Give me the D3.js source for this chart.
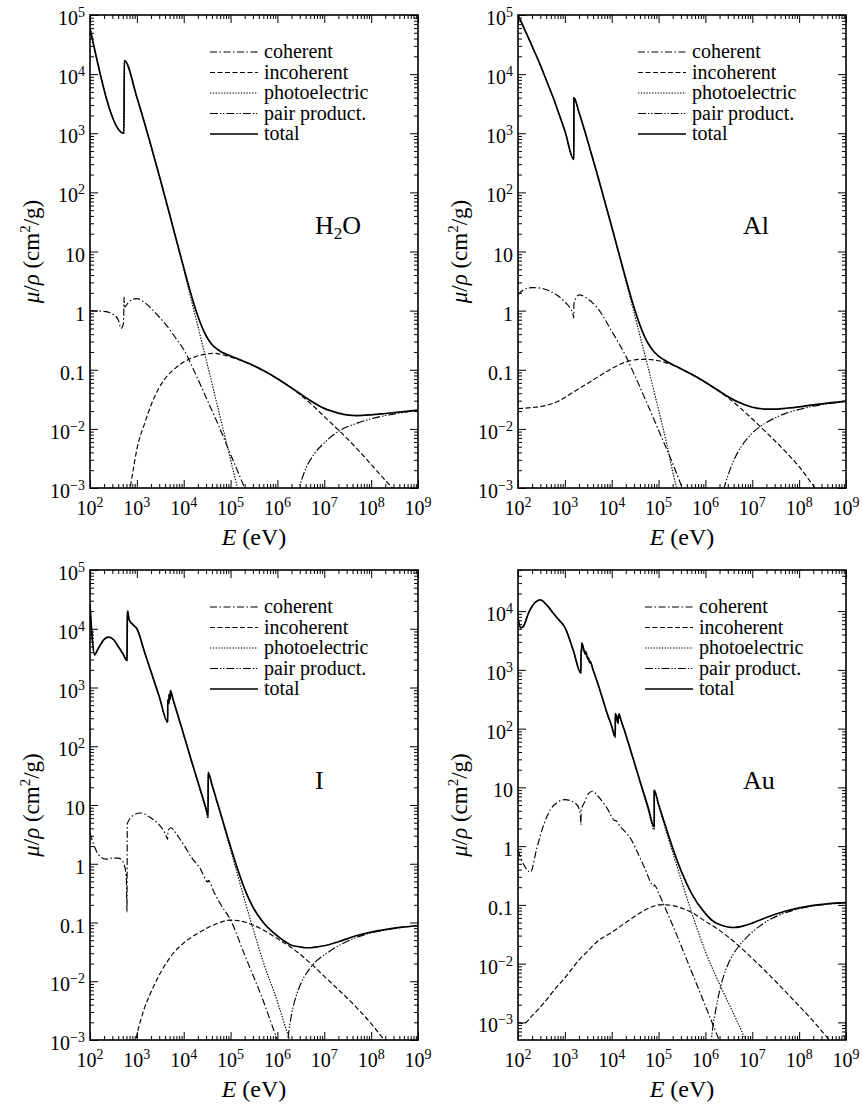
<!DOCTYPE html>
<html>
<head>
<meta charset="utf-8">
<script src="https://cdn.jsdelivr.net/npm/d3@7"></script>
<style>
body { margin: 0; background: #fff; }
svg text { font-family: "Liberation Serif", "DejaVu Serif", serif; fill: #000; }
</style>
</head>
<body>
<svg id="chart" width="862" height="1105"></svg>
<script>
// mass attenuation coefficients, [E (eV), mu/rho (cm^2/g)]

var h2oCoherent = [[100,1.0],[200,0.97],[300,0.88],[400,0.7],[460,0.5],[520,0.62],[533,1.7],[548,1.15],[650,1.35],[800,1.55],[1000,1.6],[1500,1.35],[2000,1.1],[3000,0.78],[5000,0.48],[7000,0.33],[10000,0.22],[15000,0.115],[20000,0.07],[30000,0.034],[50000,0.0138],[100000,0.0037],[200000,0.00099],[300000,0.00044]];
var h2oIncoherent = [[650,0.0006],[720,0.001],[850,0.0022],[1000,0.0045],[1500,0.013],[2000,0.025],[3000,0.05],[4400,0.078],[7000,0.11],[10000,0.135],[15000,0.158],[20000,0.172],[30000,0.184],[45000,0.19],[70000,0.178],[100000,0.164],[200000,0.135],[500000,0.0966],[1e6,0.0707],[2e6,0.049],[5e6,0.0272],[1e7,0.0161],[2e7,0.0096],[5e7,0.0046],[1e8,0.0025],[2e8,0.00135],[3e8,0.00095],[5e8,0.0006]];
var h2oPhoto = [[100,6.0e4],[530,1.0e3],[540,1.7e4],[1000,4.07e3],[2000,615],[3000,192],[5000,42],[10000,5.0],[15000,1.37],[20000,0.55],[30000,0.15],[40000,0.059],[50000,0.0286],[60000,0.0158],[80000,0.0062],[100000,0.003],[150000,0.0008],[200000,0.0003]];
var h2oPair = [[2.2e6,0.0004],[2.9e6,0.001],[4e6,0.0021],[6e6,0.0037],[1e7,0.0058],[2e7,0.0091],[5e7,0.0125],[1e8,0.0148],[2e8,0.0168],[5e8,0.019],[1e9,0.0204]];
var h2oTotal = [[100,6.0e4],[530,1.0e3],[540,1.7e4],[1000,4.08e3],[2000,617],[3000,193],[5000,42.6],[10000,5.33],[15000,1.67],[20000,0.81],[30000,0.376],[40000,0.268],[50000,0.227],[60000,0.206],[80000,0.184],[100000,0.171],[150000,0.151],[200000,0.137],[300000,0.119],[500000,0.0969],[1e6,0.0707],[2e6,0.0494],[3e6,0.0397],[5e6,0.0303],[1e7,0.0222],[2e7,0.0185],[3e7,0.0172],[5e7,0.0168],[1e8,0.0173],[2e8,0.0182],[5e8,0.0196],[1e9,0.0208]];

var alCoherent = [[100,1.85],[130,2.25],[200,2.45],[300,2.4],[500,2.1],[700,1.8],[1000,1.4],[1300,1.1],[1500,0.85],[1545,0.75],[1565,1.3],[1700,1.6],[2000,1.85],[3000,1.6],[5000,1.1],[10000,0.45],[20000,0.17],[30000,0.085],[50000,0.034],[100000,0.0095],[200000,0.0026],[320000,0.001],[500000,0.0004]];
var alIncoherent = [[100,0.022],[200,0.023],[400,0.025],[700,0.029],[1000,0.034],[2000,0.048],[3000,0.058],[5000,0.075],[10000,0.105],[20000,0.135],[40000,0.15],[70000,0.148],[100000,0.142],[200000,0.12],[500000,0.0835],[1e6,0.0607],[2e6,0.0426],[5e6,0.0243],[1e7,0.0147],[2e7,0.0087],[5e7,0.0042],[1e8,0.0023],[2.2e8,0.001],[5e8,0.00048]];
var alPhoto = [[100,1.0e5],[1000,1.1e3],[1559,360],[1561,3960],[2000,2260],[3000,786],[5000,192],[10000,25.8],[15000,7.7],[20000,3.2],[30000,0.92],[40000,0.38],[50000,0.19],[60000,0.108],[80000,0.043],[100000,0.021],[150000,0.0055],[200000,0.0019],[300000,0.00052]];
var alPair = [[2e6,0.0005],[2.5e6,0.001],[3e6,0.0016],[4e6,0.0029],[6e6,0.0052],[1e7,0.0085],[2e7,0.0128],[5e7,0.0181],[1e8,0.0213],[2e8,0.0242],[5e8,0.0272],[1e9,0.0288]];
var alTotal = [[100,1.0e5],[1000,1.1e3],[1559,360],[1561,3960],[2000,2263],[3000,788],[5000,193],[10000,26.2],[15000,7.96],[20000,3.44],[30000,1.13],[40000,0.569],[50000,0.368],[60000,0.278],[80000,0.202],[100000,0.17],[150000,0.138],[200000,0.122],[300000,0.104],[500000,0.0845],[1e6,0.0615],[2e6,0.0432],[3e6,0.0354],[5e6,0.0284],[1e7,0.0232],[2e7,0.0216],[3e7,0.0215],[5e7,0.0223],[1e8,0.0236],[2e8,0.0254],[5e8,0.0278],[1e9,0.0292]];

var iCoherent = [[100,3.3],[130,1.8],[170,1.3],[220,1.2],[300,1.25],[400,1.25],[500,1.1],[560,0.85],[600,0.5],[615,0.15],[625,4.8],[660,5.3],[800,6.5],[1200,7.3],[2000,6.0],[3000,4.6],[4000,3.3],[4550,2.6],[4600,3.6],[5300,4.1],[7000,3.2],[10000,2.1],[15000,1.25],[22000,0.85],[33000,0.49],[33300,0.52],[45000,0.32],[60000,0.21],[100000,0.11],[200000,0.028],[500000,0.0046],[1e6,0.001],[1.5e6,0.00045]];
var iIncoherent = [[900,0.0008],[1000,0.0012],[1400,0.0032],[2000,0.0065],[2600,0.0102],[4000,0.019],[6000,0.03],[10000,0.045],[22000,0.068],[50000,0.095],[100000,0.11],[200000,0.102],[500000,0.0745],[1e6,0.0532],[2e6,0.0372],[5e6,0.0205],[1e7,0.0121],[2e7,0.0072],[5e7,0.0035],[1e8,0.0019],[1.9e8,0.001],[5e8,0.0004]];
var iPhoto = [[100,2.6e4],[110,8e3],[125,3.6e3],[150,4.6e3],[200,6.6e3],[250,7.2e3],[320,6.5e3],[400,5.0e3],[500,3.8e3],[615,2.9e3],[625,1.5e4],[635,2.0e4],[680,1.45e4],[800,1.2e4],[1000,1.0e4],[1500,3.75e3],[2000,1.87e3],[3000,700],[4555,255],[4560,620],[4850,530],[4855,750],[5185,630],[5190,880],[6000,600],[8000,280],[10000,155],[15000,52],[20000,24],[30000,8.0],[33150,5.9],[33200,35.4],[40000,21.9],[50000,11.9],[60000,7.3],[80000,3.25],[100000,1.73],[150000,0.547],[200000,0.24],[300000,0.08],[500000,0.021],[1e6,0.0045],[1.5e6,0.0016],[2e6,0.0008]];
var iPair = [[1.5e6,0.0003],[1.7e6,0.0011],[2e6,0.0027],[2.5e6,0.0055],[3e6,0.0083],[4e6,0.013],[5e6,0.0168],[7e6,0.0226],[1e7,0.028],[2e7,0.04],[5e7,0.0562],[1e8,0.0665],[2e8,0.0745],[5e8,0.0833],[1e9,0.0875]];
var iTotal = [[100,2.6e4],[110,8e3],[125,3.6e3],[150,4.6e3],[200,6.6e3],[250,7.2e3],[320,6.5e3],[400,5.0e3],[500,3.8e3],[615,2.9e3],[625,1.5e4],[635,2.0e4],[680,1.45e4],[800,1.2e4],[1000,1.0e4],[1500,3.75e3],[2000,1.87e3],[3000,705],[4555,258],[4560,625],[4850,535],[4855,755],[5185,635],[5190,885],[6000,605],[8000,285],[10000,157],[15000,53],[20000,25],[30000,8.6],[33150,6.5],[33200,36],[40000,22.4],[50000,12.3],[60000,7.6],[80000,3.5],[100000,1.94],[150000,0.7],[200000,0.37],[300000,0.183],[500000,0.1],[1e6,0.059],[2e6,0.041],[3e6,0.0385],[4e6,0.0372],[5e6,0.0372],[7e6,0.0386],[1e7,0.0402],[2e7,0.047],[5e7,0.06],[1e8,0.0685],[2e8,0.0756],[5e8,0.084],[1e9,0.088]];

var auCoherent = [[100,0.85],[130,0.5],[185,0.36],[250,0.9],[360,2.4],[500,4.3],[700,5.6],[1000,6.2],[1400,5.8],[1900,4.8],[2150,3.3],[2200,2.3],[2230,4.0],[2600,5.5],[3200,7.8],[3900,8.6],[5000,7.2],[8000,4.4],[11900,2.7],[11950,2.75],[15000,2.2],[20000,1.7],[26000,1.3],[35000,0.8],[49000,0.45],[80000,0.21],[80800,0.22],[100000,0.16],[140000,0.087],[200000,0.045],[500000,0.0075],[1e6,0.0019],[2e6,0.00048]];
var auIncoherent = [[100,0.001],[130,0.00095],[200,0.0013],[350,0.0021],[600,0.0036],[1000,0.0057],[2000,0.0115],[3000,0.016],[5000,0.024],[10000,0.034],[20000,0.05],[40000,0.073],[70000,0.092],[100000,0.1],[150000,0.1],[200000,0.097],[300000,0.089],[500000,0.075],[1e6,0.0525],[2e6,0.0368],[5e6,0.0205],[1e7,0.0123],[2e7,0.0072],[5e7,0.0034],[1e8,0.0019],[2e8,0.00105],[4e8,0.00055],[1e9,0.00024]];
var auPhoto = [[100,7.5e3],[115,5.2e3],[130,5.5e3],[170,9.5e3],[230,1.4e4],[300,1.55e4],[400,1.3e4],[550,9.5e3],[700,7.5e3],[1000,5.3e3],[1500,2.2e3],[2200,875],[2215,2.2e3],[2285,2.05e3],[2295,2.85e3],[2740,1.85e3],[2750,2.05e3],[3140,1.5e3],[3155,1.6e3],[3420,1.3e3],[3430,1.4e3],[4000,1.0e3],[5000,593],[6000,375],[8000,177],[10000,107],[11910,71],[11930,178],[13730,123],[13740,168],[14350,150],[14360,178],[15000,158],[20000,77],[30000,26.6],[40000,12.3],[50000,6.8],[60000,4.15],[80700,1.9],[80750,8.6],[100000,4.9],[150000,1.66],[200000,0.79],[300000,0.277],[500000,0.077],[1e6,0.016],[2e6,0.0045],[4e6,0.0014],[7.2e6,0.0005]];
var auPair = [[1.2e6,0.0002],[1.4e6,0.0007],[1.7e6,0.0018],[2e6,0.0034],[3e6,0.0095],[4e6,0.0148],[5e6,0.0192],[7e6,0.0262],[1e7,0.0345],[2e7,0.052],[5e7,0.073],[1e8,0.086],[2e8,0.096],[5e8,0.104],[1e9,0.108]];
var auTotal = [[100,7.5e3],[115,5.2e3],[130,5.5e3],[170,9.5e3],[230,1.4e4],[300,1.55e4],[400,1.3e4],[550,9.5e3],[700,7.5e3],[1000,5.3e3],[1500,2.2e3],[2200,880],[2215,2.2e3],[2285,2.05e3],[2295,2.85e3],[2740,1.86e3],[2750,2.06e3],[3140,1.51e3],[3155,1.61e3],[3420,1.31e3],[3430,1.41e3],[4000,1.0e3],[5000,600],[6000,380],[8000,182],[10000,110],[11910,73],[11930,180],[13730,125],[13740,170],[14350,152],[14360,180],[15000,160],[20000,78.8],[30000,27.5],[40000,12.9],[50000,7.26],[60000,4.53],[80700,2.14],[80750,8.9],[100000,5.16],[150000,1.86],[200000,0.928],[300000,0.386],[500000,0.159],[1e6,0.071],[1.5e6,0.052],[2e6,0.0462],[3e6,0.042],[4e6,0.0412],[6e6,0.0431],[1e7,0.0489],[2e7,0.061],[5e7,0.078],[1e8,0.089],[2e8,0.098],[5e8,0.106],[1e9,0.109]];

var seriesNames = ["coherent", "incoherent", "photoelectric", "pair product.", "total"];
var xDomain = [1e2, 1e9];

// line styles, same order as seriesNames
var dashes = ["7,2.5,1.5,2.5", "5,2.5", "1.4,1.4", "8,2,1.4,1.6,1.4,2", null];
var widths = [1.15, 1.15, 1.15, 1.15, 1.7];

var panels = [
    { name: "H2O", x0: 90, y0: 15, h: 473, yDomain: [1e-3, 1e5], legendDx: 0,
      data: [h2oCoherent, h2oIncoherent, h2oPhoto, h2oPair, h2oTotal] },
    { name: "Al", x0: 518, y0: 15, h: 473, yDomain: [1e-3, 1e5], legendDx: 0,
      data: [alCoherent, alIncoherent, alPhoto, alPair, alTotal] },
    { name: "I", x0: 90, y0: 570, h: 470, yDomain: [1e-3, 1e5], legendDx: 0,
      data: [iCoherent, iIncoherent, iPhoto, iPair, iTotal] },
    { name: "Au", x0: 518, y0: 570, h: 470, yDomain: [Math.pow(10, -3.3), Math.pow(10, 4.7)], legendDx: 7,
      data: [auCoherent, auIncoherent, auPhoto, auPair, auTotal] }
];
var panelW = 328;

var svg = d3.select("#chart");

function logTicks(domain) {
    var lo = Math.floor(Math.log10(domain[0]) + 1e-9), hi = Math.ceil(Math.log10(domain[1]) - 1e-9);
    var major = [], minor = [];
    for (var e = lo; e <= hi; e++) {
        for (var m = 1; m <= 9; m++) {
            var v = m * Math.pow(10, e);
            if (v < domain[0] * 0.999 || v > domain[1] * 1.001) continue;
            if (m == 1) major.push(v); else minor.push(v);
        }
    }
    return { major: major, minor: minor };
}

// writes 1, 10, 0.1 plainly and the rest as 10 with a superscript
function powerLabel(text, v) {
    var e = Math.round(Math.log10(v));
    if (e == 0) { text.text("1"); return; }
    if (e == 1) { text.text("10"); return; }
    if (e == -1) { text.text("0.1"); return; }
    text.append("tspan").text("10");
    text.append("tspan").attr("dy", -8).attr("font-size", 14).text(e < 0 ? "\u2212" + (-e) : e);
}

function drawPanel(p, idx) {
    var x = d3.scaleLog().domain(xDomain).range([p.x0, p.x0 + panelW]);
    var y = d3.scaleLog().domain(p.yDomain).range([p.y0 + p.h, p.y0]);
    var g = svg.append("g");

    var clipId = "clip" + idx;
    svg.append("clipPath").attr("id", clipId)
        .append("rect").attr("x", p.x0).attr("y", p.y0).attr("width", panelW).attr("height", p.h);

    // curves
    var line = d3.line().x(d => x(d[0])).y(d => y(d[1])).curve(d3.curveMonotoneX);
    var curves = g.append("g").attr("clip-path", "url(#" + clipId + ")");
    p.data.forEach(function (s, i) {
        curves.append("path")
            .attr("d", line(s))
            .attr("fill", "none")
            .attr("stroke", "#000")
            .attr("stroke-width", widths[i])
            .attr("stroke-dasharray", dashes[i])
            .attr("stroke-linejoin", "round");
    });

    // inward ticks on all four sides
    var xt = logTicks(xDomain), yt = logTicks(p.yDomain);
    var sides = [
        [d3.axisBottom(x), "translate(0," + (p.y0 + p.h) + ")", xt],
        [d3.axisTop(x), "translate(0," + p.y0 + ")", xt],
        [d3.axisLeft(y), "translate(" + p.x0 + ",0)", yt],
        [d3.axisRight(y), "translate(" + (p.x0 + panelW) + ",0)", yt]
    ];
    sides.forEach(function (s) {
        [[s[2].major, -8], [s[2].minor, -4]].forEach(function (t) {
            var ax = s[0].tickValues(t[0]).tickSize(t[1]).tickFormat("");
            var ag = g.append("g").attr("transform", s[1]).call(ax);
            ag.select(".domain").remove();
            ag.selectAll("line").attr("stroke", "#000").attr("stroke-width", 1);
        });
    });

    g.append("rect")
        .attr("x", p.x0).attr("y", p.y0).attr("width", panelW).attr("height", p.h)
        .attr("fill", "none").attr("stroke", "#000").attr("stroke-width", 1.6);

    // tick labels
    xt.major.forEach(function (v) {
        var t = g.append("text").attr("x", x(v)).attr("y", p.y0 + p.h + 27)
            .attr("text-anchor", "middle").attr("font-size", 20);
        powerLabel(t, v);
    });
    yt.major.forEach(function (v) {
        var t = g.append("text").attr("x", p.x0 - 5).attr("y", y(v) + 10)
            .attr("text-anchor", "end").attr("font-size", 20);
        powerLabel(t, v);
    });

    // axis titles
    var xt2 = g.append("text").attr("x", p.x0 + panelW / 2).attr("y", p.y0 + p.h + 57)
        .attr("text-anchor", "middle").attr("font-size", 24);
    xt2.append("tspan").attr("font-style", "italic").text("E");
    xt2.append("tspan").text(" (eV)");

    var cy = p.y0 + p.h / 2;
    var yt2 = g.append("text")
        .attr("transform", "translate(" + (p.x0 - 59) + "," + cy + ") rotate(-90)")
        .attr("x", 0).attr("y", 8).attr("text-anchor", "middle").attr("font-size", 23);
    yt2.append("tspan").attr("font-style", "italic").text("\u03bc");
    yt2.append("tspan").text("/");
    yt2.append("tspan").attr("font-style", "italic").text("\u03c1");
    yt2.append("tspan").text(" (cm");
    yt2.append("tspan").attr("dy", -9).attr("font-size", 15).text("2");
    yt2.append("tspan").attr("dy", 9).text("/g)");

    // material label
    var lab = g.append("text").attr("x", p.x0 + 225).attr("y", p.y0 + 219).attr("font-size", 26);
    if (p.name == "H2O") {
        lab.append("tspan").text("H");
        lab.append("tspan").attr("dy", 5).attr("font-size", 17).text("2");
        lab.append("tspan").attr("dy", -5).text("O");
    } else {
        lab.text(p.name);
    }

    // legend
    var lx = p.x0 + 120 + p.legendDx;
    seriesNames.forEach(function (name, i) {
        var ly = p.y0 + 37 + i * 20.5;
        g.append("line")
            .attr("x1", lx).attr("x2", lx + 48).attr("y1", ly).attr("y2", ly)
            .attr("stroke", "#000").attr("stroke-width", widths[i])
            .attr("stroke-dasharray", dashes[i]);
        g.append("text").attr("x", lx + 54).attr("y", ly + 6)
            .attr("font-size", 20).text(name);
    });
}

panels.forEach(drawPanel);
</script>
</body>
</html>
